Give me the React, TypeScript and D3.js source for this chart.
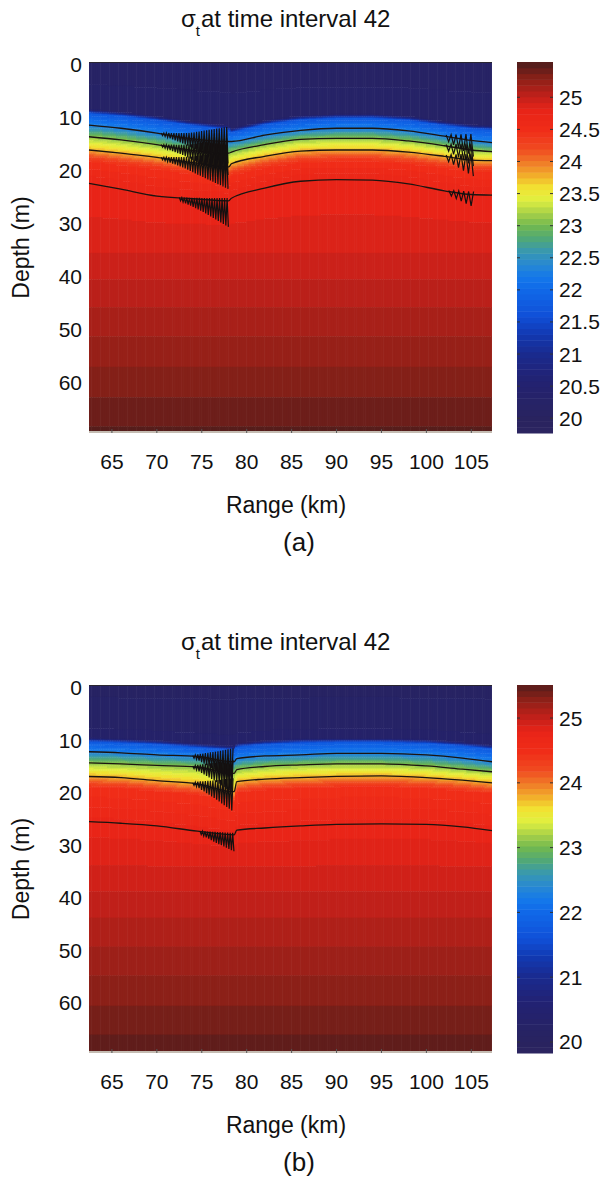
import React, { useEffect, useRef } from 'react';
import * as d3 from 'd3';

// axis ticks
const rangeTicks = [65, 70, 75, 80, 85, 90, 95, 100, 105];
const depthTicks = [0, 10, 20, 30, 40, 50, 60];
const cbarTicksA = [20, 20.5, 21, 21.5, 22, 22.5, 23, 23.5, 24, 24.5, 25];
const cbarTicksB = [20, 21, 22, 23, 24, 25];

// panel (a): depth (m) of the pycnocline top and of the four contour lines at each range station (km)
const stationsA = [62.45, 66, 70, 74, 78.0, 78.3, 82, 86, 90, 94, 98, 102, 105, 107.3];
const pycnoTopA = [9.7, 10.2, 11.0, 12.0, 12.8, 13.3, 11.8, 10.9, 10.6, 10.6, 11.0, 12.0, 12.6, 12.8];
const line1A = [11.9, 12.5, 13.4, 14.5, 15.0, 15.0, 13.8, 12.9, 12.5, 12.5, 13.0, 14.0, 14.8, 15.2];
const line2A = [14.1, 14.7, 15.6, 16.7, 17.2, 17.0, 15.6, 14.6, 14.4, 14.4, 14.9, 15.8, 16.6, 16.9];
const line3A = [16.6, 17.2, 18.0, 19.0, 19.8, 19.2, 17.8, 16.8, 16.6, 16.6, 17.0, 17.8, 18.5, 18.6];
const line4A = [22.9, 24.0, 25.3, 25.8, 26.2, 25.7, 23.8, 22.5, 22.2, 22.3, 23.0, 24.3, 25.0, 25.1];

// panel (b)
const stationsB = [62.45, 66, 70, 74.5, 78.6, 78.9, 82, 86, 90, 95, 100, 104, 107.3];
const pycnoTopB = [10.8, 11.0, 11.3, 11.9, 12.4, 11.8, 11.3, 11.0, 10.9, 10.9, 11.1, 11.6, 12.2];
const line1B = [12.7, 12.9, 13.3, 13.6, 14.6, 14.0, 13.5, 13.3, 13.0, 13.0, 13.3, 13.9, 14.6];
const line2B = [14.8, 15.0, 15.3, 15.6, 16.8, 16.1, 15.5, 15.2, 15.0, 15.0, 15.4, 16.0, 16.5];
const line3B = [17.4, 17.6, 18.2, 18.8, 20.3, 18.4, 17.9, 17.6, 17.4, 17.3, 17.6, 18.1, 18.6];
const line4B = [26.0, 26.3, 26.8, 27.8, 28.5, 27.6, 27.2, 26.8, 26.5, 26.4, 26.5, 27.0, 27.7];

// deep, nearly level isopycnals (m) and sigma-t at every profile node
const deepDepths = [35, 45, 55, 64, 70];
const nodeSigma = [20.15, 20.3, 21.75, 22.3, 23.1, 23.8, 24.45, 24.75, 24.9, 25.08, 25.24, 25.38, 25.48];
const navyEdge = 0.8;
const orangeBand = 2.0;

// internal wave packets: amplitude envelope (m) along range
const waveA1Range = [70.5, 73, 75.5, 78.0];
const waveA1Amp = [0.4, 2.0, 4.5, 7.0];
const waveA2Range = [72.5, 75, 78.0];
const waveA2Amp = [0.5, 2.5, 5.5];
const waveA3Range = [102.2, 104, 105.4];
const waveA3Amp = [1.0, 3.0, 4.5];
const waveA4Range = [102.5, 104, 105.4];
const waveA4Amp = [0.8, 2.0, 3.0];
const waveB1Range = [74.0, 76.5, 78.6];
const waveB1Amp = [0.4, 3.5, 6.5];
const waveB2Range = [74.8, 76.5, 78.6];
const waveB2Amp = [0.5, 2.0, 3.5];

// colormap
const cmapValues = [19.77, 20.0, 20.6, 21.0, 21.3, 21.6, 22.0, 22.2, 22.4, 22.6, 22.8, 23.0, 23.2, 23.4, 23.6, 23.8, 24.0, 24.2, 24.5, 24.8, 25.0, 25.3, 25.55];
const cmapColors = ['#2c2460', '#29235f', '#222272', '#1a2a8e', '#1238b0', '#1050d8', '#1068e8', '#1478ea', '#2888d2', '#3898b0', '#50a878', '#70b850', '#a8d048', '#e0f040', '#f2e232', '#f2aa2a', '#f07828', '#f04a20', '#f02c18', '#e82418', '#c4201a', '#8a2018', '#4a1c1c'];

const FONT = '"Liberation Sans", Arial, Helvetica, sans-serif';

const panels = [
  {
    top: 62, bottom: 433, label: '(a)',
    stations: stationsA, layers: [pycnoTopA, line1A, line2A, line3A, line4A],
    cbarDomain: [19.77, 25.55], cbarTicks: cbarTicksA,
    packets: [
      { range: waveA1Range, amp: waveA1Amp, lines: [1, 2, 3], step: 0.28, up: 0.4 },
      { range: waveA2Range, amp: waveA2Amp, lines: [4], step: 0.28, up: 0.1 },
      { range: waveA3Range, amp: waveA3Amp, lines: [1, 2, 3], step: 0.55, up: 0.3 },
      { range: waveA4Range, amp: waveA4Amp, lines: [4], step: 0.55, up: 0.2 },
    ],
  },
  {
    top: 685, bottom: 1053, label: '(b)',
    stations: stationsB, layers: [pycnoTopB, line1B, line2B, line3B, line4B],
    cbarDomain: [19.83, 25.51], cbarTicks: cbarTicksB,
    packets: [
      { range: waveB1Range, amp: waveB1Amp, lines: [1, 2, 3], step: 0.28, up: 0.4 },
      { range: waveB2Range, amp: waveB2Amp, lines: [4], step: 0.28, up: 0.1 },
    ],
  },
];

export default function App() {
  const svgRef = useRef<SVGSVGElement>(null);

  useEffect(() => {
    if (!svgRef.current) return;
    const svg = d3.select(svgRef.current);
    svg.selectAll('*').remove();

    const cmap = d3.scaleLinear<string>().domain(cmapValues).range(cmapColors)
      .interpolate(d3.interpolateRgb).clamp(true);
    const x = d3.scaleLinear().domain([62.45, 107.3]).range([89, 492]);
    const cbarX0 = 517, cbarX1 = 553;

    panels.forEach(p => {
      const g = svg.append('g');
      const y = d3.scaleLinear().domain([0, 70]).range([p.top, p.bottom]);
      const [d0, d1] = p.cbarDomain;
      const nBins = 64;
      const binColor = (i: number) => cmap(d0 + (i + 0.5) * (d1 - d0) / nBins);
      const q = d3.scaleQuantize<number>().domain([d0, d1]).range(d3.range(nBins));
      const layerScales = p.layers.map(arr => d3.scaleLinear().domain(p.stations).range(arr).clamp(true));

      // sigma-t field as quantized pcolor cells
      const dr = 0.25, dz = 0.25;
      const nCols = Math.ceil((107.3 - 62.45) / dr);
      const nRows = Math.round(70 / dz);
      const cells: { r0: number; r1: number; z0: number; z1: number; bin: number }[] = [];
      for (let c = 0; c < nCols; c++) {
        const r0 = 62.45 + c * dr;
        const r1 = Math.min(107.3, r0 + dr);
        const rc = (r0 + r1) / 2;
        const [top, l1, l2, l3, l4] = layerScales.map(s => s(rc));
        const depths = [0, top - navyEdge, top, l1, l2, l3, l3 + orangeBand, l4, ...deepDepths];
        const prof = d3.scaleLinear().domain(depths).range(nodeSigma).clamp(true);
        let start = 0;
        let bin = q(prof(dz / 2));
        for (let k = 1; k < nRows; k++) {
          const b = q(prof((k + 0.5) * dz));
          if (b !== bin) {
            cells.push({ r0, r1, z0: start * dz, z1: k * dz, bin });
            start = k;
            bin = b;
          }
        }
        cells.push({ r0, r1, z0: start * dz, z1: 70, bin });
      }
      g.append('g').selectAll('rect').data(cells).join('rect')
        .attr('x', d => x(d.r0))
        .attr('y', d => y(d.z0))
        .attr('width', d => Math.min(x(d.r1) - x(d.r0) + 0.6, 492 - x(d.r0)))
        .attr('height', d => Math.min(y(d.z1) - y(d.z0) + 0.4, p.bottom - y(d.z0)))
        .attr('fill', d => binColor(d.bin));

      // contour lines
      const lineGen = d3.line<number>()
        .x((_, i) => x(p.stations[i]))
        .y(d => y(d))
        .curve(d3.curveMonotoneX);
      [1, 2, 3, 4].forEach(li => {
        g.append('path')
          .attr('d', lineGen(p.layers[li]))
          .attr('fill', 'none')
          .attr('stroke', '#1c1410')
          .attr('stroke-width', 1.3);
      });

      // internal wave oscillations on the contours
      p.packets.forEach(pk => {
        const amp = d3.scaleLinear().domain(pk.range).range(pk.amp).clamp(true);
        const r0 = pk.range[0], r1 = pk.range[pk.range.length - 1];
        const n = Math.floor((r1 - r0) / pk.step);
        pk.lines.forEach(li => {
          const zs = layerScales[li];
          const pts: [number, number][] = [];
          for (let k = 0; k <= n; k++) {
            const ra = r0 + k * pk.step;
            const rb = ra + pk.step / 2;
            pts.push([x(ra), y(zs(ra) - pk.up * amp(ra))]);
            if (rb <= r1) pts.push([x(rb), y(zs(rb) + (1 - pk.up) * amp(rb))]);
          }
          g.append('path')
            .attr('d', d3.line()(pts))
            .attr('fill', 'none')
            .attr('stroke', '#141010')
            .attr('stroke-width', 1.2);
        });
      });

      // frame bits
      g.append('line').attr('x1', 89).attr('x2', 492).attr('y1', p.top + 0.5).attr('y2', p.top + 0.5)
        .attr('stroke', '#2a2630').attr('stroke-width', 1);
      g.append('line').attr('x1', 89).attr('x2', 492).attr('y1', p.bottom - 1).attr('y2', p.bottom - 1)
        .attr('stroke', '#c4bcb2').attr('stroke-width', 2);
      g.append('g').selectAll('line').data(rangeTicks).join('line')
        .attr('x1', d => x(d)).attr('x2', d => x(d))
        .attr('y1', p.bottom).attr('y2', p.bottom - 4)
        .attr('stroke', '#555').attr('stroke-width', 1);

      // x tick labels
      g.append('g').selectAll('text').data(rangeTicks).join('text')
        .attr('x', d => x(d)).attr('y', p.bottom + 36)
        .attr('text-anchor', 'middle')
        .style('font-family', FONT).style('font-size', '21px').attr('fill', '#111')
        .text(d => d);

      // y tick labels
      g.append('g').selectAll('text').data(depthTicks).join('text')
        .attr('x', 82).attr('y', d => y(d) + 10)
        .attr('text-anchor', 'end')
        .style('font-family', FONT).style('font-size', '21px').attr('fill', '#111')
        .text(d => d);

      // axis labels
      g.append('text')
        .attr('transform', `translate(29, ${(p.top + p.bottom) / 2}) rotate(-90)`)
        .attr('text-anchor', 'middle')
        .style('font-family', FONT).style('font-size', '23px').attr('fill', '#111')
        .text('Depth (m)');
      g.append('text')
        .attr('x', 286).attr('y', p.bottom + 80)
        .attr('text-anchor', 'middle')
        .style('font-family', FONT).style('font-size', '23px').attr('fill', '#111')
        .text('Range (km)');
      g.append('text')
        .attr('x', 299).attr('y', p.bottom + 118)
        .attr('text-anchor', 'middle')
        .style('font-family', FONT).style('font-size', '26px').attr('fill', '#111')
        .text(p.label);

      // title: sigma_t at time interval 42
      const title = g.append('text')
        .attr('x', 181).attr('y', p.top - 35)
        .style('font-family', FONT).style('font-size', '24px').attr('fill', '#111');
      title.append('tspan').text('σ');
      title.append('tspan').attr('dy', 9).style('font-size', '15px').text('t');
      title.append('tspan').attr('dy', -9).attr('dx', 1).text('at time interval 42');

      // colour bar
      const cy = d3.scaleLinear().domain([d0, d1]).range([p.bottom, p.top]);
      const step = (d1 - d0) / nBins;
      g.append('g').selectAll('rect').data(d3.range(nBins)).join('rect')
        .attr('x', cbarX0).attr('width', cbarX1 - cbarX0)
        .attr('y', i => cy(d0 + (i + 1) * step))
        .attr('height', i => cy(d0 + i * step) - cy(d0 + (i + 1) * step) + 0.5)
        .attr('fill', i => binColor(i));
      const ct = g.append('g').selectAll('g').data(p.cbarTicks).join('g');
      ct.append('line')
        .attr('x1', cbarX0).attr('x2', cbarX0 + 3)
        .attr('y1', d => cy(d)).attr('y2', d => cy(d))
        .attr('stroke', '#333').attr('stroke-width', 1);
      ct.append('line')
        .attr('x1', cbarX1 - 3).attr('x2', cbarX1)
        .attr('y1', d => cy(d)).attr('y2', d => cy(d))
        .attr('stroke', '#333').attr('stroke-width', 1);
      ct.append('text')
        .attr('x', 559).attr('y', d => cy(d) + 7.5)
        .style('font-family', FONT).style('font-size', '21px').attr('fill', '#111')
        .text(d => d);
    });
  }, []);

  return (
    <svg
      ref={svgRef}
      width={605}
      height={1177}
      style={{ position: 'absolute', left: 0, top: 0, background: '#fff' }}
    />
  );
}
